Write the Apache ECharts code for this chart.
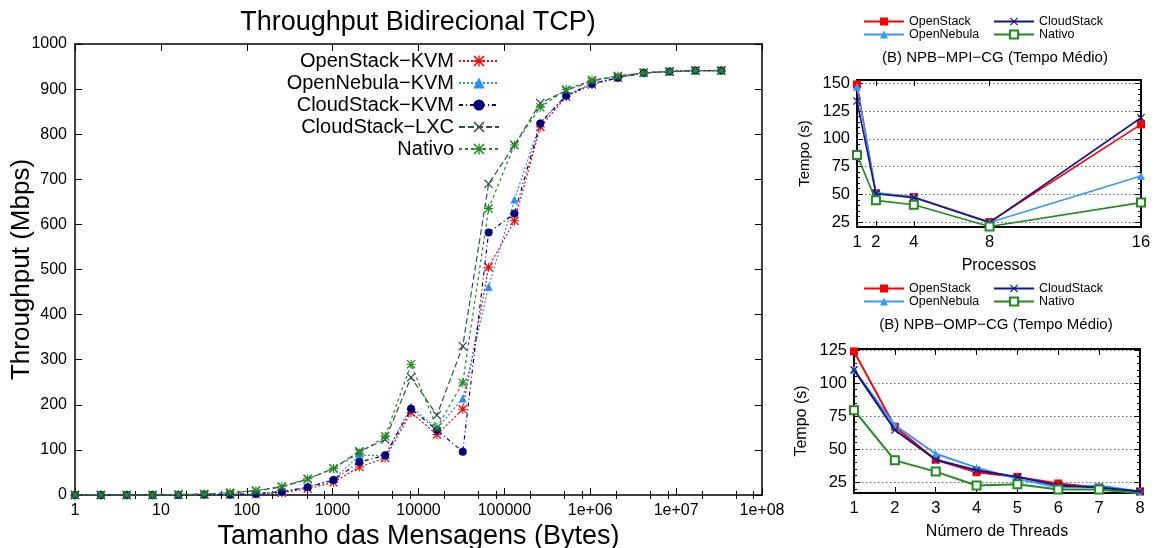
<!DOCTYPE html>
<html><head><meta charset="utf-8">
<script src="https://cdn.jsdelivr.net/npm/echarts@6/dist/echarts.min.js"></script>
<style>html,body{margin:0;padding:0;background:#fff}#c{width:1159px;height:548px}</style>
</head><body><div id="c"></div><script>
// ---------- data ----------
const msgSizes = [1,2,4,8,16,32,64,128,256,512,1024,2048,4096,8192,16384,32768,65536,131072,262144,524288,1048576,2097152,4194304,8388608,16777216,33554432];
const osKvm   = [0,0,0,0,0,1,1,2,5,14,28,62,82,183,134,190,505,608,816,883,910,925,936,939,941,941];
const onKvm   = [0,0,0,0,0,1,1,3,7,18,35,88,88,196,147,214,462,655,826,886,912,926,936,939,941,941];
const csKvm   = [0,0,0,0,0,1,1,3,7,17,33,73,88,191,144,96,582,624,824,886,912,925,936,939,941,941];
const csLxc   = [0,0,0,0,1,2,5,9,18,35,59,97,123,261,177,330,690,776,869,897,918,929,936,939,941,941];
const nativo  = [0,0,0,0,1,2,5,10,19,36,59,93,130,290,149,249,635,776,860,899,920,929,936,939,941,941];
const mainNames = ['OpenStack\u2212KVM','OpenNebula\u2212KVM','CloudStack\u2212KVM','CloudStack\u2212LXC','Nativo'];

const mpiProcs      = [1,2,4,8,16];
const mpiOpenStack  = [149,51,47.5,25,113];
const mpiOpenNebula = [147,51.5,47.5,24.5,66.5];
const mpiCloudStack = [134,50.5,47,24.5,119];
const mpiNativo     = [85.5,44.5,40.5,21,42.5];

const ompThreads    = [1,2,3,4,5,6,7,8];
const ompOpenStack  = [124,67,42,32.5,29,24,21,18];
const ompOpenNebula = [110,68,46.5,36,27.5,21,22.5,18];
const ompCloudStack = [110,64.5,42,34,29,22.5,21,18];
const ompNativo     = [79.5,41.5,33,22.5,23.5,19.5,19.5,16.5];
// (trailing space keeps the small-chart legend entries separate from the main chart's "Nativo")
const smallNames = ['OpenStack','OpenNebula','CloudStack','Nativo '];

// tick lists
const minorMultipliers = [2,5,8];
const mpiXTicks = [1,2,4,8,16];
const mpiYTicks = [25,50,75,100,125,150];
const ompYTicks = [25,50,75,100,125];

// ---------- helpers ----------
const FONT = '"Liberation Sans", Arial, sans-serif';
const X_PATH = 'path://M0 1L1 0L10 9L9 10Z M9 0L10 1L1 10L0 9Z';
const STAR_PATH = 'path://M0 1L1 0L10 9L9 10Z M9 0L10 1L1 10L0 9Z M0 4.4L10 4.4L10 5.6L0 5.6Z M4.4 0L5.6 0L5.6 10L4.4 10Z';
const pairs = (xs, ys) => xs.map((x, i) => [x, ys[i]]);
const range = (a, b, s) => { const r = []; for (let v = a; v <= b + 1e-9; v += s) r.push(v); return r; };
const mainMinor = [];
for (let k = 0; k < 8; k++) minorMultipliers.forEach(m => mainMinor.push(Math.log10(m) + k));

const lineW = 1.5;
function axisLine(w) { return { show: true, onZero: false, lineStyle: { color: '#000', width: w } }; }

const chart = echarts.init(document.getElementById('c'), null, { renderer: 'canvas' });

const xAxis = [
  { type: 'log', logBase: 10, gridIndex: 0, position: 'bottom', min: 1, max: 1e8, splitNumber: 8,
    axisLine: axisLine(lineW), axisTick: { show: true, inside: true, length: 7, lineStyle: { color: '#000', width: 1 } },
    axisLabel: { show: true, margin: 8, fontSize: 16, color: '#000', fontFamily: FONT,
      formatter: v => { const e = Math.round(Math.log10(v)); return e >= 6 ? '1e+0' + e : String(Math.pow(10, e)); } },
    splitLine: { show: false }, minorTick: { show: false },
    name: 'Tamanho das Mensagens (Bytes)', nameLocation: 'middle', nameGap: 28, nameMoveOverlap: false,
    nameTextStyle: { fontSize: 27, color: '#000', fontFamily: FONT } },
  { type: 'log', logBase: 10, gridIndex: 0, position: 'top', min: 1, max: 1e8, splitNumber: 8,
    axisLine: axisLine(lineW), axisTick: { show: true, inside: true, length: 7, lineStyle: { color: '#000', width: 1 } },
    axisLabel: { show: false }, splitLine: { show: false } },
  { type: 'value', gridIndex: 0, position: 'bottom', min: 0, max: 8,
    axisLine: { show: false }, axisLabel: { show: false }, splitLine: { show: false },
    axisTick: { show: true, inside: true, length: 4, customValues: mainMinor, lineStyle: { color: '#000', width: 1 } } },
  { type: 'value', gridIndex: 0, position: 'top', min: 0, max: 8,
    axisLine: { show: false }, axisLabel: { show: false }, splitLine: { show: false },
    axisTick: { show: true, inside: true, length: 4, customValues: mainMinor, lineStyle: { color: '#000', width: 1 } } },
  { type: 'value', gridIndex: 1, position: 'bottom', min: 1, max: 16,
    axisLine: axisLine(2), axisTick: { show: true, inside: true, length: 6, customValues: mpiXTicks, lineStyle: { color: '#000', width: 1 } },
    axisLabel: { show: true, customValues: mpiXTicks, margin: 7, fontSize: 16.5, color: '#000', fontFamily: FONT },
    splitLine: { show: false },
    name: 'Processos', nameLocation: 'middle', nameGap: 31, nameMoveOverlap: false, nameTextStyle: { fontSize: 16, color: '#000', fontFamily: FONT } },
  { type: 'value', gridIndex: 1, position: 'top', min: 1, max: 16,
    axisLine: axisLine(2), axisTick: { show: true, inside: true, length: 6, customValues: mpiXTicks, lineStyle: { color: '#000', width: 1 } },
    axisLabel: { show: false }, splitLine: { show: false } },
  { type: 'value', gridIndex: 2, position: 'bottom', min: 1, max: 8, interval: 1,
    axisLine: axisLine(2), axisTick: { show: true, inside: true, length: 6, lineStyle: { color: '#000', width: 1 } },
    axisLabel: { show: true, margin: 7, fontSize: 16.5, color: '#000', fontFamily: FONT },
    splitLine: { show: false },
    name: 'N\u00famero de Threads', nameLocation: 'middle', nameGap: 31, nameMoveOverlap: false, nameTextStyle: { fontSize: 16, color: '#000', fontFamily: FONT } },
  { type: 'value', gridIndex: 2, position: 'top', min: 1, max: 8, interval: 1,
    axisLine: axisLine(2), axisTick: { show: true, inside: true, length: 6, lineStyle: { color: '#000', width: 1 } },
    axisLabel: { show: false }, splitLine: { show: false } }
];

function smallY(grid, pos, min, max, ticks, main, nameCfg) {
  const o = { type: 'value', gridIndex: grid, position: pos, min: min, max: max,
    axisLine: axisLine(2),
    axisTick: { show: true, inside: true, length: 6, customValues: ticks, lineStyle: { color: '#000', width: 1 } },
    axisLabel: { show: main, customValues: ticks, margin: 7, fontSize: 16.5, color: '#000', fontFamily: FONT },
    splitLine: { show: main, lineStyle: { color: '#666', width: 1, type: [1.5, 2.5] } } };
  if (nameCfg) Object.assign(o, nameCfg);
  return o;
}
function minorY(grid, pos, min, max, ticks) {
  return { type: 'value', gridIndex: grid, position: pos, min: min, max: max,
    axisLine: { show: false }, axisLabel: { show: false }, splitLine: { show: false },
    axisTick: { show: true, inside: true, length: 3, customValues: ticks, lineStyle: { color: '#000', width: 1 } } };
}
const yName = (gap, fs) => ({ name: 'Tempo (s)', nameLocation: 'middle', nameGap: gap, nameMoveOverlap: false, nameTextStyle: { fontSize: fs, color: '#000', fontFamily: FONT } });

const MPI_MIN = 20.5, MPI_MAX = 153, OMP_MIN = 16.8, OMP_MAX = 125.8;
const yAxis = [
  { type: 'value', gridIndex: 0, position: 'left', min: 0, max: 1000, interval: 100,
    axisLine: axisLine(lineW), axisTick: { show: true, inside: true, length: 7, lineStyle: { color: '#000', width: 1 } },
    axisLabel: { margin: 8, fontSize: 16, color: '#000', fontFamily: FONT, formatter: v => String(v) }, splitLine: { show: false },
    name: 'Throughput (Mbps)', nameLocation: 'middle', nameGap: 40, nameMoveOverlap: false,
    nameTextStyle: { fontSize: 26, color: '#000', fontFamily: FONT } },
  { type: 'value', gridIndex: 0, position: 'right', min: 0, max: 1000, interval: 100,
    axisLine: axisLine(lineW), axisTick: { show: true, inside: true, length: 7, lineStyle: { color: '#000', width: 1 } },
    axisLabel: { show: false }, splitLine: { show: false } },
  smallY(1, 'left', MPI_MIN, MPI_MAX, mpiYTicks, true, yName(45, 15)),
  smallY(1, 'right', MPI_MIN, MPI_MAX, mpiYTicks, false),
  minorY(1, 'left', MPI_MIN, MPI_MAX, range(25, 150, 5)),
  minorY(1, 'right', MPI_MIN, MPI_MAX, range(25, 150, 5)),
  smallY(2, 'left', OMP_MIN, OMP_MAX, ompYTicks, true, yName(44, 16)),
  smallY(2, 'right', OMP_MIN, OMP_MAX, ompYTicks, false),
  minorY(2, 'left', OMP_MIN, OMP_MAX, range(20, 125, 5)),
  minorY(2, 'right', OMP_MIN, OMP_MAX, range(20, 125, 5))
];

const mainStyles = [
  { c: '#ff0000', dash: [2, 2], sym: STAR_PATH, size: 9, vals: osKvm },
  { c: '#1e90ff', dash: [2, 2], sym: 'triangle', size: 8, vals: onKvm },
  { c: '#000080', dash: [4, 3, 1, 3], sym: 'circle', size: 8, vals: csKvm },
  { c: '#3a5050', dash: [6, 3], sym: X_PATH, size: 9, vals: csLxc },
  { c: '#228b22', dash: [3, 3], sym: STAR_PATH, size: 9, vals: nativo }
];
const series = [];
mainStyles.forEach((s, i) => series.push({
  type: 'line', name: mainNames[i], xAxisIndex: 0, yAxisIndex: 0,
  data: pairs(msgSizes, s.vals), symbol: s.sym, symbolSize: s.size, showAllSymbol: true,
  lineStyle: { color: s.c, width: 1.2, type: s.dash }, itemStyle: { color: s.c }, z: 2 + i
}));

const smallStyles = [
  { c: '#ff0000', sym: 'rect', size: 8 },
  { c: '#3399ff', sym: 'triangle', size: 8 },
  { c: '#14148c', sym: X_PATH, size: 8 },
  { c: '#1e8c1e', sym: 'emptyRect', size: 8 }
];
const mpiVals = [mpiOpenStack, mpiOpenNebula, mpiCloudStack, mpiNativo];
const ompVals = [ompOpenStack, ompOpenNebula, ompCloudStack, ompNativo];
smallStyles.forEach((s, i) => {
  series.push({ type: 'line', name: smallNames[i], xAxisIndex: 4, yAxisIndex: 2,
    data: pairs(mpiProcs, mpiVals[i]), symbol: s.sym, symbolSize: s.size,
    lineStyle: { color: s.c, width: 1.6 }, itemStyle: { color: s.c, borderColor: s.c, borderWidth: s.sym === 'emptyRect' ? 1.3 : 0 }, z: 2 + i });
  series.push({ type: 'line', name: smallNames[i], xAxisIndex: 6, yAxisIndex: 6,
    data: pairs(ompThreads, ompVals[i]), symbol: s.sym, symbolSize: s.size,
    lineStyle: { color: s.c, width: 2 }, itemStyle: { color: s.c, borderColor: s.c, borderWidth: s.sym === 'emptyRect' ? 1.5 : 0 }, z: 2 + i });
});

const smallLegend = (left, top, names) => ({
  orient: 'vertical', left: left, top: top, itemWidth: 40, itemHeight: 10, itemGap: 0, padding: 0,
  textStyle: { fontSize: 12.5, color: '#000', fontFamily: FONT }, data: names, selectedMode: false
});

const option = {
  animation: false,
  backgroundColor: '#fff',
  title: [
    { text: 'Throughput Bidirecional TCP)', left: 418, textAlign: 'center', top: 9, padding: 0,
      textStyle: { fontSize: 27, fontWeight: 'normal', color: '#000', fontFamily: FONT } },
    { text: '(B) NPB\u2212MPI\u2212CG (Tempo M\u00e9dio)', left: 995, textAlign: 'center', top: 50, padding: 0,
      textStyle: { fontSize: 15, fontWeight: 'normal', color: '#000', fontFamily: FONT } },
    { text: '(B) NPB\u2212OMP\u2212CG (Tempo M\u00e9dio)', left: 996, textAlign: 'center', top: 317, padding: 0,
      textStyle: { fontSize: 15, fontWeight: 'normal', color: '#000', fontFamily: FONT } }
  ],
  legend: [
    { orient: 'vertical', right: 659, top: 51, align: 'right', itemWidth: 40, itemHeight: 14, itemGap: 2, padding: 0,
      textStyle: { fontSize: 20, color: '#000', fontFamily: FONT }, data: mainNames, selectedMode: false },
    smallLegend(863, 15, [smallNames[0], smallNames[1]]),
    smallLegend(993, 15, [smallNames[2], smallNames[3]]),
    smallLegend(863, 282, [smallNames[0], smallNames[1]]),
    smallLegend(993, 282, [smallNames[2], smallNames[3]])
  ],
  grid: [
    { left: 75, top: 44, width: 687, height: 451, containLabel: false, outerBoundsMode: 'none' },
    { left: 857, top: 80, width: 284, height: 147, containLabel: false, outerBoundsMode: 'none' },
    { left: 854, top: 349, width: 286, height: 144, containLabel: false, outerBoundsMode: 'none' }
  ],
  xAxis: xAxis,
  yAxis: yAxis,
  series: series
};
chart.setOption(option);
</script></body></html>
